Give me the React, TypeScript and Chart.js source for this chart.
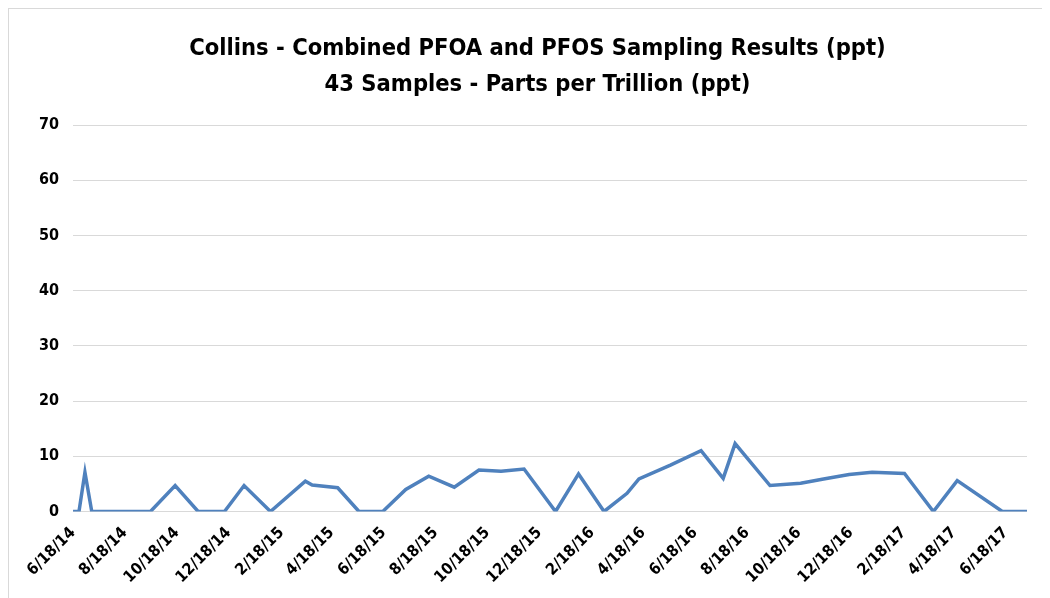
import React, { useEffect, useRef } from "react";
import { Chart, registerables } from "chart.js";

Chart.register(...registerables);

const titleLines = [
  "Collins - Combined PFOA and PFOS Sampling Results (ppt)",
  "43 Samples - Parts per Trillion (ppt)",
];

const sampleDates = [
  "6/18/14", "6/25/14", "7/2/14", "7/10/14", "7/31/14", "8/21/14", "9/17/14",
  "10/16/14", "11/12/14", "12/13/14", "1/5/15", "2/5/15", "3/18/15", "3/26/15",
  "4/25/15", "5/20/15", "6/17/15", "7/14/15", "8/10/15", "9/9/15", "10/8/15",
  "11/3/15", "11/30/15", "1/6/16", "2/2/16", "3/3/16", "3/30/16", "4/13/16",
  "5/20/16", "6/25/16", "7/21/16", "8/4/16", "9/14/16", "10/20/16", "11/16/16",
  "12/16/16", "1/12/17", "2/19/17", "3/25/17", "4/22/17", "6/14/17", "6/28/17",
  "7/13/17",
];

const sampleValues = [
  0, 0, 7.1, 0, 0, 0, 0,
  4.7, 0, 0, 4.7, 0, 5.5, 4.8,
  4.3, 0, 0, 4.0, 6.4, 4.4, 7.5,
  7.3, 7.7, 0, 6.8, 0, 3.3, 5.9,
  8.4, 11.0, 6.0, 12.3, 4.7, 5.1, 5.9,
  6.7, 7.1, 6.9, 0, 5.6, 0, 0,
  0,
];

const xTickLabels = [
  "6/18/14", "8/18/14", "10/18/14", "12/18/14", "2/18/15", "4/18/15", "6/18/15",
  "8/18/15", "10/18/15", "12/18/15", "2/18/16", "4/18/16", "6/18/16", "8/18/16",
  "10/18/16", "12/18/16", "2/18/17", "4/18/17", "6/18/17",
];

const yMin = 0;
const yMax = 70;
const yStep = 10;

const parseDay = (s: string) => {
  const [m, d, y] = s.split("/").map(Number);
  return Date.UTC(2000 + y, m - 1, d) / 86400000;
};

const FONT = "'Liberation Sans Narrow', 'DejaVu Sans Condensed', 'Liberation Sans', sans-serif";

const titlePlugin = {
  id: "customTitle",
  afterDraw(chart: any) {
    const ctx = chart.ctx;
    ctx.save();
    ctx.fillStyle = "#000";
    ctx.font = `bold 23.5px ${FONT}`;
    ctx.textAlign = "center";
    ctx.textBaseline = "middle";
    const cx = chart.width / 2 + 8;
    ctx.fillText(titleLines[0], cx, 40);
    ctx.fillText(titleLines[1], cx, 76);
    ctx.restore();
  },
};

export default function App() {
  const ref = useRef<HTMLCanvasElement | null>(null);

  useEffect(() => {
    if (!ref.current) return;
    const base = parseDay(sampleDates[0]);
    const points = sampleDates.map((d, i) => ({ x: parseDay(d) - base, y: sampleValues[i] }));
    const labelMap = new Map<number, string>();
    xTickLabels.forEach((l) => labelMap.set(parseDay(l) - base, l));
    const lastDay = parseDay(sampleDates[sampleDates.length - 1]) - base;

    const chart = new Chart(ref.current, {
      type: "line",
      data: {
        datasets: [
          {
            data: points,
            borderColor: "#4f81bd",
            borderWidth: 3.5,
            pointRadius: 0,
            tension: 0,
            fill: false,
          },
        ],
      },
      plugins: [titlePlugin],
      options: {
        animation: false,
        responsive: true,
        maintainAspectRatio: false,
        layout: { padding: { left: 16, right: 23, top: 116, bottom: 7 } },
        plugins: {
          legend: { display: false },
          tooltip: { enabled: false },
          title: { display: false },
        },
        scales: {
          x: {
            type: "linear",
            min: 0,
            max: lastDay,
            afterBuildTicks: (scale: any) => {
              scale.ticks = xTickLabels.map((l) => ({ value: parseDay(l) - base }));
            },
            ticks: {
              autoSkip: false,
              maxRotation: 45,
              minRotation: 45,
              color: "#000",
              padding: 4,
              font: { family: FONT, size: 16, weight: "bold" },
              callback: (v: any) => labelMap.get(Number(v)) ?? "",
            },
            grid: { display: false },
            border: { display: false },
          },
          y: {
            min: yMin,
            max: yMax,
            ticks: {
              stepSize: yStep,
              color: "#000",
              padding: 14,
              font: { family: FONT, size: 16, weight: "bold" },
            },
            grid: { color: "#d9d9d9", drawTicks: false },
            border: { display: false },
          },
        },
      },
    });
    return () => chart.destroy();
  }, []);

  return (
    <div
      style={{
        width: 1041,
        height: 589,
        borderTop: "1px solid #d9d9d9",
        borderLeft: "1px solid #d9d9d9",
        position: "relative",
      }}
    >
      <div style={{ position: "absolute", left: 0, top: 0, width: 1041, height: 589 }}>
        <canvas ref={ref} />
      </div>
    </div>
  );
}
